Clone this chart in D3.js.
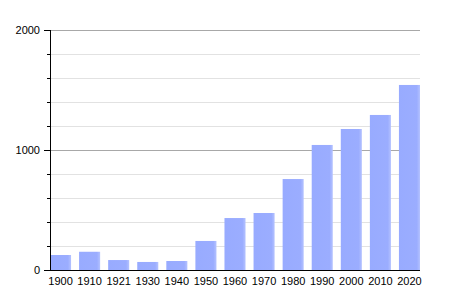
<!DOCTYPE html>
<html>
<head>
<meta charset="utf-8">
<script src="https://cdn.jsdelivr.net/npm/d3@7"></script>
<style>
  body { margin: 0; background: #fff; }
  text { font-family: "Liberation Sans", Arial, sans-serif; font-size: 11px; fill: #000; }
</style>
</head>
<body>
<script>
// 人口柱状图
const years  = ["1900", "1910", "1921", "1930", "1940", "1950", "1960", "1970", "1980", "1990", "2000", "2010", "2020"];
const values = [125, 152, 83, 67, 75, 242, 433, 475, 758, 1042, 1175, 1292, 1542];
const majorTicks = [0, 1000, 2000];
const minorTicks = [200, 400, 600, 800, 1200, 1400, 1600, 1800];

const width = 450, height = 300;
const margin = { top: 30, right: 30, bottom: 30, left: 50 };

const svg = d3.select("body").append("svg")
  .attr("width", width)
  .attr("height", height);

const defs = svg.append("defs");
const grad = defs.append("linearGradient")
  .attr("id", "barGrad")
  .attr("x1", "0").attr("x2", "1").attr("y1", "0").attr("y2", "0");
grad.append("stop").attr("offset", "0").attr("stop-color", "#98abff");
grad.append("stop").attr("offset", "0.85").attr("stop-color", "#9badff");
grad.append("stop").attr("offset", "1").attr("stop-color", "#b4c2ff");

const x = d3.scaleBand()
  .domain(years)
  .range([margin.left, width - margin.right])
  .paddingInner(0.276)
  .paddingOuter(0);

const y = d3.scaleLinear()
  .domain([0, 2000])
  .range([height - margin.bottom, margin.top]);

// 网格线
svg.append("g")
  .selectAll("line")
  .data(minorTicks)
  .join("line")
  .attr("x1", margin.left).attr("x2", width - margin.right)
  .attr("y1", d => y(d) + 0.5).attr("y2", d => y(d) + 0.5)
  .attr("stroke", "#e2e2e2");

svg.append("g")
  .selectAll("line")
  .data(majorTicks.filter(d => d > 0))
  .join("line")
  .attr("x1", margin.left).attr("x2", width - margin.right)
  .attr("y1", d => y(d) + 0.5).attr("y2", d => y(d) + 0.5)
  .attr("stroke", "#a8a8a8");

// 柱子
svg.append("g")
  .selectAll("rect")
  .data(values)
  .join("rect")
  .attr("x", (d, i) => x(years[i]))
  .attr("y", d => y(d))
  .attr("width", x.bandwidth())
  .attr("height", d => y(0) - y(d))
  .attr("fill", "url(#barGrad)");

// Y轴
const yAxis = svg.append("g")
  .attr("transform", `translate(${margin.left},0)`);
yAxis.append("line")
  .attr("x1", 0.5).attr("x2", 0.5)
  .attr("y1", y(2000)).attr("y2", y(0))
  .attr("stroke", "#000");
yAxis.selectAll(".major")
  .data(majorTicks)
  .join("line")
  .attr("class", "major")
  .attr("x1", -6).attr("x2", 0)
  .attr("y1", d => y(d) + 0.5).attr("y2", d => y(d) + 0.5)
  .attr("stroke", "#000");
yAxis.selectAll(".minor")
  .data(minorTicks)
  .join("line")
  .attr("class", "minor")
  .attr("x1", -3).attr("x2", 0)
  .attr("y1", d => y(d) + 0.5).attr("y2", d => y(d) + 0.5)
  .attr("stroke", "#000");
yAxis.selectAll("text")
  .data(majorTicks)
  .join("text")
  .attr("x", -10)
  .attr("y", d => y(d))
  .attr("dy", "0.35em")
  .attr("text-anchor", "end")
  .text(d => d);

// X轴
svg.append("line")
  .attr("x1", margin.left).attr("x2", width - margin.right)
  .attr("y1", y(0) + 0.5).attr("y2", y(0) + 0.5)
  .attr("stroke", "#000");

svg.append("g")
  .selectAll("text")
  .data(years)
  .join("text")
  .attr("x", d => x(d) + x.bandwidth() / 2)
  .attr("y", y(0) + 15)
  .attr("text-anchor", "middle")
  .text(d => d);
</script>
</body>
</html>
